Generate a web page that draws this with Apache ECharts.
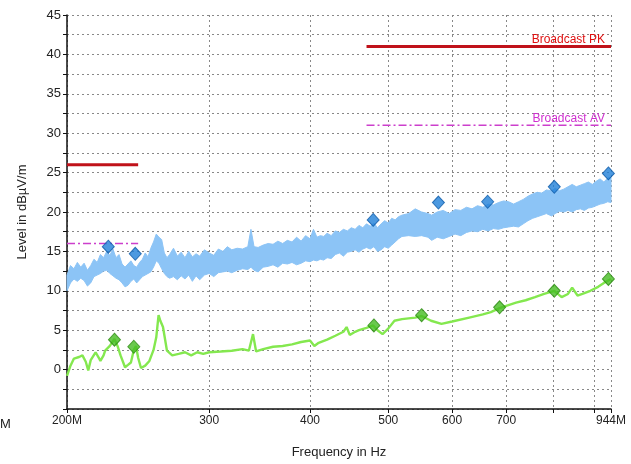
<!DOCTYPE html>
<html><head><meta charset="utf-8">
<script src="https://cdn.jsdelivr.net/npm/echarts@6/dist/echarts.min.js"></script>
<style>html,body{margin:0;padding:0;background:#fff}#c{width:631px;height:464px}</style>
</head><body><div id="c"></div>
<script>
// ---- data (frequencies in MHz, levels in dBµV/m) ----
const xTickValues = [200, 300, 400, 500, 600, 700, 800, 900, 944];
const xLabelValues = [200, 300, 400, 500, 600, 700, 944];

const bandFreq = [200,202,204,206,208,210,212,214,216,218,220,222,224,226,228,230,232,234,236,238,240,242,244,246,248,250,252,254,256,258,260,262,264,266,268,271,274,277,280,283,286,289,292,296,300,304,308,312,316,320,325,330,335,338,341,345,350,355,360,365,370,375,380,385,390,395,400,404,408,412,416,420,425,430,435,440,445,450,455,460,465,470,475,480,485,490,495,500,505,510,515,520,530,540,550,560,566,575,585,595,605,615,625,635,645,655,665,675,685,695,705,715,725,735,745,755,765,775,785,797,805,815,825,835,845,855,865,875,885,895,905,915,925,935,944];
const bandLow  = [10.0,11.0,11.5,11.2,11.6,11.3,10.6,11.0,11.8,12.0,12.2,12.5,12.6,12.2,11.9,11.6,11.4,11.0,10.5,10.7,11.2,11.5,11.0,11.4,11.8,12.0,12.2,12.4,13.0,13.8,13.5,12.8,12.2,11.8,11.6,11.8,11.4,11.9,11.5,12.0,11.2,11.9,11.4,12.0,12.2,11.8,12.3,12.4,12.5,12.3,12.6,12.8,12.7,13.0,12.6,12.4,13.0,13.1,13.3,13.0,13.5,13.4,13.6,13.3,13.5,13.8,13.7,13.9,13.8,14.0,13.9,14.2,14.1,14.6,14.8,14.4,14.9,15.0,15.2,14.9,15.3,15.5,15.3,15.6,15.0,15.2,15.6,15.4,15.8,16.2,16.6,16.9,17.0,16.9,17.0,16.8,16.4,16.8,16.6,16.9,17.2,17.0,17.4,17.6,17.5,17.8,17.6,17.9,17.8,18.0,18.1,18.2,18.1,18.5,18.9,19.2,19.4,19.6,19.8,19.5,19.8,20.1,20.0,20.2,20.0,20.3,20.4,20.2,20.5,20.6,20.8,21.0,21.1,21.3,21.2];
const bandHigh = [12.0,13.2,12.8,13.6,13.0,13.5,12.6,13.2,14.0,13.6,14.6,14.2,15.0,14.5,15.3,14.2,14.6,13.4,13.0,13.4,13.8,13.2,13.0,13.6,14.0,14.8,14.3,15.4,16.2,17.2,16.8,16.5,14.8,14.2,14.6,15.4,14.4,14.9,14.2,15.0,14.3,14.7,14.4,15.2,14.8,14.5,15.3,15.0,15.6,15.2,15.4,15.3,15.6,17.8,15.6,15.5,15.8,16.0,15.9,16.3,16.0,16.4,16.2,16.8,16.3,17.0,16.6,17.8,16.8,17.0,16.9,17.3,17.0,17.6,17.4,17.8,17.6,18.0,17.8,18.3,18.0,18.5,18.2,18.6,18.0,18.5,18.9,18.6,19.2,19.0,19.4,19.6,19.8,20.4,20.0,19.8,19.6,20.0,20.2,19.8,20.3,20.2,20.6,20.4,20.8,20.6,21.0,20.9,21.2,21.4,21.3,21.0,21.3,21.6,22.0,22.3,22.5,22.4,22.8,22.7,23.0,22.7,22.9,23.2,23.5,23.2,23.4,23.6,23.8,23.5,23.9,24.2,23.8,24.3,24.4];

const avgTraceFreq = [200,202,204,207,209,211,212.5,214,217,219,220,222,223,226,229,231,233,236,238,240,242,243.5,245,247,250,253,256,258,259.7,261,263,266,270,275,280,285,290,295,300,310,320,330,336,340,343,350,360,370,380,390,400,405,410,420,430,440,444,448,455,460,470,479,485,492,500,509,520,540,550,565,582,600,630,655,670,687,700,720,740,760,780,803,820,835,845,858,870,890,910,925,944];
const avgTraceVal  = [-0.8,0.5,1.4,1.6,1.8,1.0,-0.1,1.2,2.2,1.5,1.1,1.8,2.4,3.0,3.9,3.0,1.8,0.3,0.6,0.9,2.5,3.0,1.5,0.2,0.5,1.1,2.5,4.1,6.9,6.2,5.4,2.4,1.8,2.0,2.2,1.8,2.2,2.0,2.2,2.3,2.4,2.6,2.4,4.5,2.3,2.6,2.9,3.0,3.2,3.5,3.7,3.0,3.4,3.8,4.3,4.8,5.4,4.4,4.8,5.0,5.3,5.6,5.0,4.5,5.2,6.2,6.4,6.6,6.8,6.2,5.8,6.1,6.6,7.0,7.3,7.8,8.1,8.5,8.8,9.2,9.6,10.0,9.2,9.6,10.4,9.4,9.6,10.0,10.5,11.0,11.5];

const peakFreq = [225, 243, 479, 577, 664, 803, 937];
const peakVal  = [15.6, 14.7, 19.0, 21.2, 21.3, 23.2, 24.9];
const avgFreq  = [229, 242, 480, 550, 687, 803, 937];
const avgVal   = [3.8, 2.9, 5.6, 6.9, 7.9, 10.0, 11.5];

const pkLimitLow  = {freq: [200, 245], level: 26};
const pkLimitHigh = {freq: [470, 944], level: 41};
const avLimitLow  = {freq: [200, 245], level: 16};
const avLimitHigh = {freq: [470, 944], level: 31};

// ---- build ----
const zip = (xs, ys) => xs.map((x, i) => [x, ys[i]]);
const font = 'Liberation Sans, Arial, sans-serif';

function limitSeries(lim, style, labelText, labelColor) {
  const s = {type: 'line', data: lim.freq.map(f => [f, lim.level]), symbol: 'none', lineStyle: style, z: 4};
  if (labelText) {
    s.endLabel = {show: true, formatter: labelText, color: labelColor, fontSize: 12, fontFamily: font,
      align: 'right', verticalAlign: 'bottom', distance: 0, offset: [-6, -1]};
  }
  return s;
}

const pkStyle = {color: '#c0121a', width: 3};
const avStyle = {color: '#cc3fcc', width: 1.5, type: [8, 3, 2, 3]};

const chart = echarts.init(document.getElementById('c'), null, {renderer: 'canvas'});
chart.setOption({
  animation: false,
  backgroundColor: '#fff',
  grid: {left: 67, right: 20, top: 15, bottom: 55, containLabel: false},
  xAxis: {
    type: 'log', logBase: 10, min: 200, max: 944,
    name: 'Frequency in Hz', nameLocation: 'middle', nameGap: 37,
    nameTextStyle: {fontFamily: font, fontSize: 13, color: '#222'},
    axisLine: {show: true, onZero: false, lineStyle: {color: '#111', width: 1.5}},
    axisTick: {show: true, length: 4, customValues: xTickValues, lineStyle: {color: '#111'}},
    axisLabel: {customValues: xLabelValues, fontFamily: font, fontSize: 12, color: '#222', margin: 6,
      formatter: v => (Math.abs(v - 200) < 1e-6 || Math.abs(v - 944) < 1e-6) ? Math.round(v) + 'M' : String(Math.round(v))},
    splitLine: {show: true, lineStyle: {color: '#888', type: [2, 3], width: 1}}
  },
  yAxis: {
    type: 'value', min: -5, max: 45, interval: 2.5,
    name: 'Level in dBµV/m', nameLocation: 'middle', nameGap: 38,
    nameTextStyle: {fontFamily: font, fontSize: 13, color: '#222'},
    axisLine: {show: true, lineStyle: {color: '#111', width: 1.5}},
    axisTick: {show: true, length: 4, lineStyle: {color: '#111'}},
    axisLabel: {fontFamily: font, fontSize: 13, color: '#222', margin: 6,
      formatter: v => (Math.abs(v % 5) < 1e-6 && v > -5) ? String(v) : ''},
    splitLine: {show: true, lineStyle: {color: '#888', type: [2, 3], width: 1}}
  },
  graphic: [{type: 'text', left: 0, top: 418, style: {text: 'M', font: '13px ' + font, fill: '#222'}}],
  series: [
    {
      type: 'custom', name: 'Peak', z: 2, silent: true,
      data: zip(bandFreq, bandHigh),
      renderItem: (params, api) => {
        if (params.dataIndex !== 0) return null;
        const pts = [];
        for (let i = 0; i < bandFreq.length; i++) pts.push(api.coord([bandFreq[i], bandHigh[i]]));
        for (let i = bandFreq.length - 1; i >= 0; i--) pts.push(api.coord([bandFreq[i], bandLow[i]]));
        return {type: 'polygon', shape: {points: pts},
          style: {fill: '#8cc4f6', stroke: '#8cc4f6', lineWidth: 1}};
      }
    },
    {type: 'line', name: 'Average', data: zip(avgTraceFreq, avgTraceVal), symbol: 'none',
      lineStyle: {color: '#84e84f', width: 2.4}, z: 3},
    limitSeries(pkLimitLow, pkStyle),
    limitSeries(pkLimitHigh, pkStyle, 'Broadcast PK', '#e01010'),
    limitSeries(avLimitLow, avStyle),
    limitSeries(avLimitHigh, avStyle, 'Broadcast AV', '#d030d0'),
    {type: 'scatter', name: 'Peak markers', data: zip(peakFreq, peakVal), symbol: 'diamond', symbolSize: [12, 13],
      itemStyle: {color: '#1f80d8', borderColor: '#0d5aa8', borderWidth: 1}, z: 5},
    {type: 'scatter', name: 'Avg markers', data: zip(avgFreq, avgVal), symbol: 'diamond', symbolSize: [12, 13],
      itemStyle: {color: '#45bb22', borderColor: '#2a8a10', borderWidth: 1}, z: 5}
  ]
});
</script>
</body></html>
